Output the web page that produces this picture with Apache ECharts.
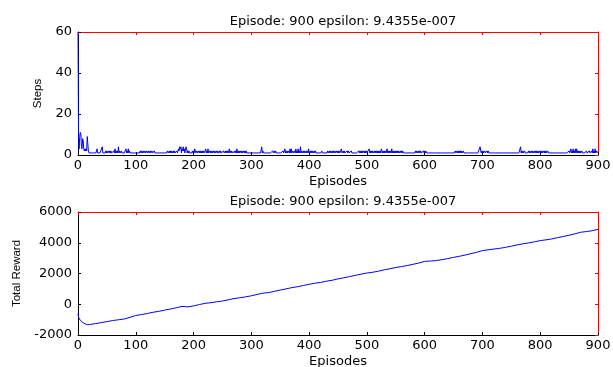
<!DOCTYPE html>
<html>
<head>
<meta charset="utf-8">
<script src="https://cdn.jsdelivr.net/npm/echarts@6/dist/echarts.min.js"></script>
<style>
  html, body { margin: 0; padding: 0; background: #fff; }
  #chart { width: 613px; height: 367px; }
</style>
</head>
<body>
<div id="chart"></div>
<script>
// 标题文本
const titleText = 'Episode: 900 epsilon: 9.4355e-007';
const xTicks = [0, 100, 200, 300, 400, 500, 600, 700, 800, 900];

// Steps: episodes 0..19 listed one by one
const stepsEarly = [60, 7, 3, 9, 11, 10, 4, 3, 8, 7, 3, 2, 3, 2, 3, 2, 9, 9, 2, 1];
// from episode 20 on: one digit per episode, each row starts at the episode given
const stepsRowStart = [20, 70, 120, 170, 220, 270, 320, 370, 420, 470, 520, 570, 620, 670, 720, 770, 820, 870];
const stepsRows = [
    '11111111111113111111114111112121121212111121312121',
    '41211211111113121312111111111111111111212112112112',
    '11211211211121111111111111111111111211212121121211',
    '12113243413242313431212111112121321121121212121211',
    '23121311212121121211212112121111211212121131212211',
    '12121312121121211212121111111111111111111111111141',
    '21111111111111111211212111111111111211312121121313',
    '11211213121312141211212112121311212121121211111111',
    '11211111111121121211212112112121211131121211112121',
    '11121111111111112121212112121211113121212112121212',
    '12121321212121231212121312121212121211212121111111',
    '11111111111111212112121211112121211111111111111111',
    '11111111111111111111111111111111121121212121211211',
    '11111111111111111111111111421212112111212111111111',
    '11111111111111111111111111111111111111111111114121',
    '21121111112121121211212121211212121121212112111111',
    '11111111111111111111111111111121131213121313121212',
    '1121111111211112111213121311211'
];

// Total reward, read at these episodes
const rewardEpisodes = [0, 1, 2, 4, 6, 8, 10, 12, 14, 16, 18, 20, 30, 40, 50, 60, 70, 80, 90,
    100, 110, 120, 130, 140, 150, 160, 170, 180, 190, 200, 210, 220, 230, 240, 250, 260, 270, 280, 290,
    300, 310, 320, 330, 340, 350, 360, 370, 380, 390, 400, 410, 420, 430, 440, 450, 460, 470, 480, 490,
    500, 510, 520, 530, 540, 550, 560, 570, 580, 590, 600, 610, 620, 630, 640, 650, 660, 670, 680, 690,
    700, 710, 720, 730, 740, 750, 760, 770, 780, 790, 800, 810, 820, 830, 840, 850, 860, 870, 880, 890, 900];
const rewardValues = [-600, -850, -950, -1050, -1120, -1180, -1230, -1270, -1300, -1330, -1350, -1320, -1260, -1200, -1130, -1060, -1010, -960, -850,
    -730, -670, -600, -520, -460, -380, -310, -230, -140, -170, -110, -20, 60, 100, 160, 210, 290, 370, 420, 480,
    550, 640, 720, 760, 840, 920, 1000, 1080, 1140, 1220, 1300, 1370, 1420, 1500, 1560, 1650, 1720, 1800, 1880, 1960,
    2030, 2080, 2150, 2240, 2310, 2390, 2450, 2520, 2600, 2680, 2790, 2810, 2840, 2900, 2970, 3050, 3120, 3200, 3290, 3380,
    3490, 3540, 3590, 3640, 3700, 3780, 3860, 3930, 3990, 4060, 4140, 4190, 4250, 4330, 4410, 4490, 4580, 4680, 4730, 4780, 4870];

const stepsTicks = [0, 20, 40, 60];
const rewardTicks = [-2000, 0, 2000, 4000, 6000];

const container = document.getElementById('chart');
const myChart = echarts.init(container);

let stepsData = [];
stepsEarly.forEach((v, i) => stepsData.push([i, v]));
stepsRows.forEach((row, r) => {
    for (let i = 0; i < row.length; i++) {
        const ep = stepsRowStart[r] + i;
        if (ep <= 900) stepsData.push([ep, Number(row[i])]);
    }
});
const rewardData = rewardEpisodes.map((ep, i) => [ep, rewardValues[i]]);

// the picture is stretched sideways, so flat text uses a wide face, turned text a narrow one
const wideFont = 'DejaVu Sans';
const narrowFont = 'Liberation Sans';
const black = '#000';
const frameColor = '#ff0000'; // test: is the frame drawn at all?

function xAxisOf(gridIndex, pos, withLabel) {
    const col = withLabel ? black : frameColor;
    return {
        type: 'value',
        gridIndex: gridIndex,
        position: pos,
        min: xTicks[0],
        max: xTicks[xTicks.length - 1],
        interval: 100,
        name: withLabel ? 'Episodes' : '',
        nameLocation: 'middle',
        nameGap: 20,
        nameTextStyle: { color: black, fontFamily: wideFont, fontSize: 13 },
        axisLine: { show: true, onZero: false, lineStyle: { color: col, width: 1 } },
        axisTick: { show: true, inside: true, length: 3, lineStyle: { color: col } },
        axisLabel: {
            show: withLabel, color: black, fontFamily: wideFont, fontSize: 13, margin: 4,
            formatter: (v) => String(v)
        },
        splitLine: { show: false }
    };
}

function yAxisOf(gridIndex, pos, ticks, label, gap) {
    const col = label ? black : frameColor;
    return {
        type: 'value',
        gridIndex: gridIndex,
        position: pos,
        min: ticks[0],
        max: ticks[ticks.length - 1],
        interval: ticks[1] - ticks[0],
        name: label,
        nameLocation: 'middle',
        nameGap: gap,
        nameTextStyle: { color: black, fontFamily: narrowFont, fontSize: 11.5 },
        axisLine: { show: true, onZero: false, lineStyle: { color: col, width: 1 } },
        axisTick: { show: true, inside: true, length: 3, lineStyle: { color: col } },
        axisLabel: {
            show: !!label, color: black, fontFamily: wideFont, fontSize: 13, margin: 6,
            formatter: (v) => String(v)
        },
        splitLine: { show: false }
    };
}

const option = {
    animation: false,
    title: [
        {
            text: titleText, left: 338, top: 10, textAlign: 'center',
            textStyle: { color: black, fontFamily: wideFont, fontSize: 13, fontWeight: 'normal' }
        },
        {
            text: titleText, left: 338, top: 190, textAlign: 'center',
            textStyle: { color: black, fontFamily: wideFont, fontSize: 13, fontWeight: 'normal' }
        }
    ],
    grid: [
        { left: 78, top: 32, width: 520, height: 123, outerBoundsMode: 'none' },
        { left: 78, top: 212, width: 520, height: 123, outerBoundsMode: 'none' }
    ],
    // each grid gets its own bottom/left axis plus a top/right copy for the ticks
    xAxis: [
        xAxisOf(0, 'bottom', true),
        xAxisOf(0, 'top', false),
        xAxisOf(1, 'bottom', true),
        xAxisOf(1, 'top', false)
    ],
    yAxis: [
        yAxisOf(0, 'left', stepsTicks, 'Steps', 34),
        yAxisOf(0, 'right', stepsTicks, '', 0),
        yAxisOf(1, 'left', rewardTicks, 'Total Reward', 55),
        yAxisOf(1, 'right', rewardTicks, '', 0)
    ],
    series: [
        {
            type: 'line',
            xAxisIndex: 0,
            yAxisIndex: 0,
            data: stepsData,
            showSymbol: false,
            lineStyle: { color: '#0000ff', width: 1 }
        },
        {
            type: 'line',
            xAxisIndex: 2,
            yAxisIndex: 2,
            data: rewardData,
            showSymbol: false,
            lineStyle: { color: '#0000ff', width: 1 }
        }
    ]
};
myChart.setOption(option);
</script>
</body>
</html>
